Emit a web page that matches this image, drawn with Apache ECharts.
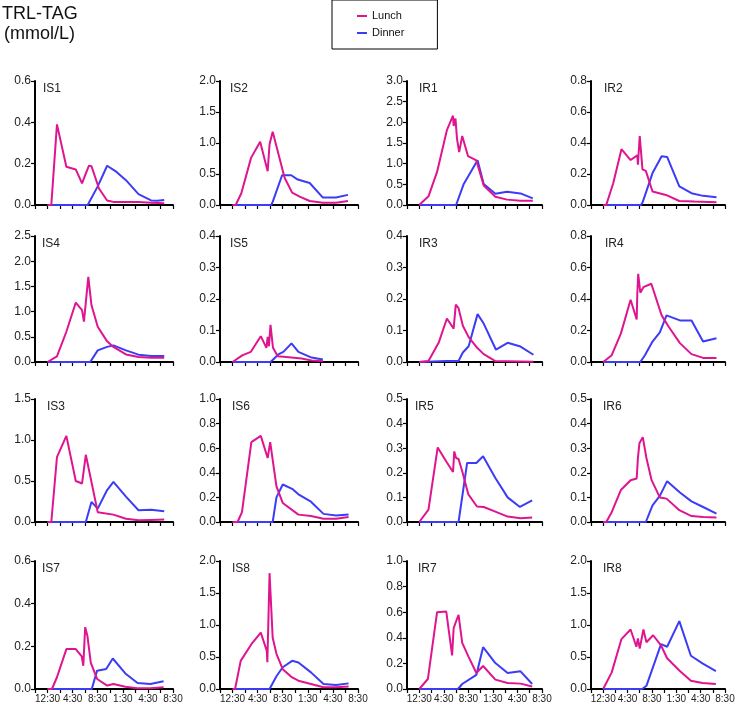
<!DOCTYPE html>
<html>
<head>
<meta charset="utf-8">
<script src="https://cdn.jsdelivr.net/npm/echarts@6/dist/echarts.min.js"></script>
<style>html,body{margin:0;padding:0;background:#fff}#c{width:740px;height:707px}</style>
</head>
<body>
<div id="c"></div>
<script>
// ---- DATA (x = hours after 10:30) ----
const panels = ['IS1','IS2','IR1','IR2','IS4','IS5','IR3','IR4','IS3','IS6','IR5','IR6','IS7','IS8','IR7','IR8'];
const yMax  = [0.6, 2.0, 3.0, 0.8, 2.5, 0.4, 0.4, 0.8, 1.5, 1.0, 0.5, 0.5, 0.6, 2.0, 1.0, 2.0];
const yStep = [0.2, 0.5, 0.5, 0.2, 0.5, 0.1, 0.1, 0.2, 0.5, 0.2, 0.1, 0.1, 0.2, 0.5, 0.2, 0.5];
const xTickLabels = ['', '12:30', '', '4:30', '', '8:30', '', '1:30', '', '4:30', '', '8:30'];
const seriesNames = ['Lunch', 'Dinner'];

const lunchIS1 = [[2,0],[2.6,0],[3.5,0.39],[5,0.185],[6.5,0.172],[7.5,0.105],[8,0.145],[8.6,0.19],[9,0.188],[10.2,0.08],[11.5,0.022],[12.5,0.015],[14.5,0.015],[16.5,0.015],[18.5,0.011],[20.6,0.008]];
const dinnerIS1 = [[2,0],[8.4,0],[10,0.09],[11.5,0.19],[13,0.16],[14.5,0.12],[16.5,0.053],[18.5,0.022],[19.5,0.02],[20.6,0.024]];
const lunchIS2 = [[2,0],[2.5,0],[3.4,0.19],[4.95,0.76],[6.4,1.02],[7.6,0.545],[7.9,0.98],[8.4,1.18],[9.4,0.79],[10.3,0.44],[11.5,0.2],[12.7,0.136],[14.3,0.065],[16.4,0.038],[18.5,0.038],[20.4,0.065]];
const dinnerIS2 = [[2,0],[8.15,0],[8.4,0.05],[9.9,0.48],[11.35,0.48],[12.4,0.41],[14.3,0.355],[16.4,0.12],[18.5,0.12],[20.4,0.163]];
const lunchIR1 = [[2,0],[3.5,0.21],[4.9,0.8],[6.5,1.81],[7.5,2.16],[7.6,1.91],[7.9,2.09],[8.15,1.6],[8.5,1.28],[9,1.67],[9.95,1.18],[11.3,1.08],[12.5,0.47],[14.4,0.2],[16.3,0.13],[18.5,0.105],[20.5,0.105]];
const dinnerIR1 = [[2,0],[8,0],[9.25,0.51],[11.5,1.08],[12.5,0.51],[14.4,0.27],[16.3,0.32],[18.5,0.28],[20.5,0.16]];
const lunchIR2 = [[2,0],[2.5,0],[3.65,0.14],[5,0.36],[6.5,0.29],[7.6,0.32],[7.7,0.26],[8,0.445],[8.45,0.23],[9,0.22],[10.1,0.087],[12.3,0.065],[14.5,0.026],[17,0.022],[20.6,0.017]];
const dinnerIR2 = [[2,0],[8.2,0],[8.5,0.02],[10.1,0.206],[11.6,0.315],[12.5,0.31],[14.5,0.12],[16.5,0.076],[18.4,0.059],[20.6,0.05]];
const lunchIS4 = [[2,0],[3.5,0.11],[5,0.6],[6.5,1.18],[7.5,1.03],[7.8,0.8],[8.5,1.69],[9,1.13],[10,0.7],[11.5,0.41],[12.5,0.3],[14.5,0.15],[16.5,0.1],[18.5,0.086],[20.6,0.086]];
const dinnerIS4 = [[2,0],[8.8,0],[10,0.23],[11.5,0.3],[12.5,0.33],[14.5,0.23],[16.5,0.146],[18.5,0.12],[20.6,0.12]];
const lunchIS5 = [[2,0],[3.55,0.021],[4.9,0.032],[6.5,0.082],[7.4,0.045],[7.6,0.08],[7.8,0.05],[8.05,0.118],[8.45,0.045],[9.2,0.018],[11.4,0.014],[13,0.011],[14.6,0.005],[16.4,0.003]];
const dinnerIS5 = [[2,0],[8.06,0],[9.3,0.024],[10.1,0.032],[11.4,0.059],[12.5,0.032],[14.6,0.014],[16.4,0.008]];
const lunchIR3 = [[2,0],[3.5,0.003],[5.2,0.063],[6.5,0.138],[7.6,0.106],[7.95,0.182],[8.4,0.171],[9.1,0.115],[10.05,0.079],[11.4,0.046],[12.5,0.025],[14.4,0.003],[20.6,0.001]];
const dinnerIR3 = [[2,0],[6.5,0.003],[8.4,0.003],[9.1,0.03],[10.05,0.05],[11.5,0.152],[12.5,0.122],[14.5,0.039],[16.4,0.061],[18.5,0.049],[20.6,0.023]];
const lunchIR4 = [[2,0],[3.4,0.043],[4.9,0.18],[6.5,0.395],[7.5,0.27],[7.6,0.43],[7.75,0.56],[8.1,0.44],[8.6,0.475],[9.9,0.497],[11.6,0.296],[12.7,0.227],[14.6,0.12],[16.5,0.05],[18.4,0.026],[20.6,0.026]];
const dinnerIR4 = [[2,0],[8.1,0],[8.85,0.043],[10.1,0.13],[11.3,0.188],[12.4,0.296],[14.6,0.264],[16.5,0.264],[18.4,0.13],[20.6,0.151]];
const lunchIS3 = [[2,0],[2.6,0],[3.5,0.79],[5,1.05],[6.5,0.5],[7.5,0.47],[7.8,0.45],[8.1,0.82],[10,0.12],[12.5,0.09],[14.5,0.04],[16.5,0.02],[18.5,0.025],[20.6,0.03]];
const dinnerIS3 = [[2,0],[8.1,0],[9,0.245],[10,0.163],[11.5,0.39],[12.5,0.49],[14.5,0.31],[16.5,0.143],[18.5,0.15],[20.6,0.13]];
const lunchIS6 = [[2,0],[2.8,0],[3.5,0.08],[5,0.65],[6.5,0.7],[7.6,0.52],[8,0.65],[9,0.29],[10,0.155],[12.5,0.06],[14.5,0.048],[16.5,0.027],[18.5,0.027],[20.5,0.04]];
const dinnerIS6 = [[2,0],[8.4,0],[9,0.2],[10,0.305],[11.5,0.27],[12.5,0.225],[14.5,0.165],[16.5,0.066],[18.5,0.053],[20.5,0.06]];
const lunchIR5 = [[2,0],[2.2,0],[3.5,0.05],[5,0.303],[6.4,0.246],[7.5,0.203],[7.7,0.287],[8,0.26],[8.4,0.256],[9,0.206],[10,0.112],[11.4,0.063],[12.5,0.061],[14.4,0.042],[16.4,0.022],[18.5,0.015],[20.4,0.018]];
const dinnerIR5 = [[2,0],[8.4,0],[9.8,0.24],[11.3,0.24],[12.4,0.267],[14.4,0.179],[16.4,0.1],[18.4,0.061],[20.4,0.088]];
const lunchIR6 = [[2,0],[2.5,0],[3.4,0.04],[4.9,0.13],[6.5,0.17],[7.5,0.177],[7.7,0.26],[7.95,0.32],[8.5,0.345],[9.1,0.26],[9.95,0.17],[11.3,0.1],[12.4,0.095],[14.5,0.048],[16.5,0.024],[18.4,0.02],[20.6,0.018]];
const dinnerIR6 = [[2,0],[9,0],[10.1,0.068],[11.3,0.106],[12.5,0.166],[14.6,0.12],[16.5,0.084],[18.4,0.061],[20.6,0.034]];
const lunchIS7 = [[2,0],[2.7,0],[3.5,0.055],[5,0.187],[6.5,0.187],[7.45,0.153],[7.7,0.109],[8,0.29],[8.35,0.25],[8.9,0.122],[9.9,0.047],[11.5,0.016],[12.5,0.023],[14.4,0.011],[16.3,0.003],[18.4,0.003],[20.5,0.008]];
const dinnerIS7 = [[2,0],[9.05,0],[9.9,0.086],[11.35,0.094],[12.4,0.143],[14.4,0.073],[16.35,0.028],[18.4,0.023],[20.5,0.036]];
const lunchIS8 = [[2,0],[2.4,0],[3.3,0.44],[5,0.7],[6.5,0.88],[7.45,0.6],[7.55,0.42],[7.9,1.81],[8.4,0.8],[9,0.55],[10,0.31],[11.5,0.18],[12.5,0.13],[14.5,0.078],[16.5,0.026],[18.5,0.026],[20.5,0.04]];
const dinnerIS8 = [[2,0],[7.9,0],[9,0.2],[10,0.34],[11.5,0.44],[12.5,0.415],[14.5,0.26],[16.5,0.078],[18.5,0.062],[20.5,0.088]];
const lunchIR7 = [[2,0],[2.2,0],[3.4,0.078],[4.9,0.6],[6.4,0.605],[7.35,0.262],[7.6,0.475],[8.4,0.58],[9,0.36],[10,0.255],[11.3,0.125],[12.4,0.18],[14.4,0.073],[16.4,0.047],[18.5,0.042],[20.4,0.02]];
const dinnerIR7 = [[2,0],[8.3,0],[9,0.039],[11.3,0.11],[12.4,0.327],[14.4,0.203],[16.4,0.125],[18.5,0.138],[20.4,0.039]];
const lunchIR8 = [[2,0],[2.3,0],[3.4,0.26],[5,0.78],[6.5,0.93],[7.45,0.66],[7.7,0.79],[8,0.63],[8.6,0.93],[9.1,0.73],[10.2,0.84],[11.5,0.68],[12.5,0.48],[14.5,0.29],[16.4,0.13],[18.3,0.095],[20.5,0.08]];
const dinnerIR8 = [[2,0],[8.4,0],[9.1,0.05],[11.5,0.7],[12.5,0.66],[14.5,1.06],[16.4,0.52],[18.3,0.4],[20.5,0.28]];

const lunch = {IS1:lunchIS1,IS2:lunchIS2,IR1:lunchIR1,IR2:lunchIR2,IS4:lunchIS4,IS5:lunchIS5,IR3:lunchIR3,IR4:lunchIR4,IS3:lunchIS3,IS6:lunchIS6,IR5:lunchIR5,IR6:lunchIR6,IS7:lunchIS7,IS8:lunchIS8,IR7:lunchIR7,IR8:lunchIR8};
const dinner = {IS1:dinnerIS1,IS2:dinnerIS2,IR1:dinnerIR1,IR2:dinnerIR2,IS4:dinnerIS4,IS5:dinnerIS5,IR3:dinnerIR3,IR4:dinnerIR4,IS3:dinnerIS3,IS6:dinnerIS6,IR5:dinnerIR5,IR6:dinnerIR6,IS7:dinnerIS7,IS8:dinnerIS8,IR7:dinnerIR7,IR8:dinnerIR8};

// ---- LAYOUT ----
const FONT = 'Liberation Sans, Arial, sans-serif';
const PINK = '#DF1590';
const BLUE = '#3C3CF6';
const colLeft = [35, 220, 407, 591];
const colWidth = [138, 138, 135, 134];
const rowTop = [81, 236, 399, 561];
const rowHeight = [124, 126, 123, 128];
const labelDx = [8,10,12,13, 7,10,12,14, 12,12,8,12, 7,12,11,12];

const grids = [], xAxes = [], yAxes = [], series = [], titles = [];
titles.push({text:'TRL-TAG', left:2, top:5, padding:0, textStyle:{fontFamily:FONT, fontSize:18, fontWeight:'normal', color:'#111'}});
titles.push({text:'(mmol/L)', left:4, top:25, padding:0, textStyle:{fontFamily:FONT, fontSize:18, fontWeight:'normal', color:'#111'}});

panels.forEach((name, i) => {
  const r = Math.floor(i / 4), c = i % 4;
  grids.push({left: colLeft[c], top: rowTop[r], width: colWidth[c], height: rowHeight[r]});
  xAxes.push({
    gridIndex: i, type: 'value', min: 0, max: 22, interval: 2,
    axisLine: {show: true, onZero: false, lineStyle: {color: '#000', width: 2}},
    axisTick: {show: true, length: 4, lineStyle: {color: '#000', width: 1.2}},
    axisLabel: {show: r === 3, fontFamily: FONT, fontSize: 10, color: '#222', margin: 5,
      showMinLabel: true, showMaxLabel: true,
      formatter: v => xTickLabels[Math.round(v / 2)] || ''},
    splitLine: {show: false}
  });
  yAxes.push({
    gridIndex: i, type: 'value', min: 0, max: yMax[i], interval: yStep[i],
    axisLine: {show: true, lineStyle: {color: '#000', width: 2}},
    axisTick: {show: true, length: 4, lineStyle: {color: '#000', width: 1.2}},
    axisLabel: {fontFamily: FONT, fontSize: 12, color: '#222', margin: 4, formatter: v => v.toFixed(1)},
    splitLine: {show: false}
  });
  series.push({name: seriesNames[0], type: 'line', xAxisIndex: i, yAxisIndex: i, data: lunch[name],
    showSymbol: false, symbol: 'none', color: PINK, lineStyle: {color: PINK, width: 2}, z: 3});
  series.push({name: seriesNames[1], type: 'line', xAxisIndex: i, yAxisIndex: i, data: dinner[name],
    showSymbol: false, symbol: 'none', color: BLUE, lineStyle: {color: BLUE, width: 2}, z: 2});
  titles.push({text: name, left: colLeft[c] + labelDx[i], top: rowTop[r] + 2, padding: 0,
    textStyle: {fontFamily: FONT, fontSize: 12, fontWeight: 'normal', color: '#222'}});
});

const chart = echarts.init(document.getElementById('c'), null, {renderer: 'canvas'});
chart.setOption({
  animation: false,
  backgroundColor: '#fff',
  title: titles,
  legend: {
    orient: 'vertical', left: 332, top: 0, data: seriesNames,
    borderColor: '#000', borderWidth: 1, padding: [10, 33, 10, 25],
    itemGap: 5, itemWidth: 10, itemHeight: 2, icon: 'rect',
    textStyle: {fontFamily: FONT, fontSize: 11, color: '#111', lineHeight: 12}
  },
  grid: grids, xAxis: xAxes, yAxis: yAxes, series: series
});
</script>
</body>
</html>
